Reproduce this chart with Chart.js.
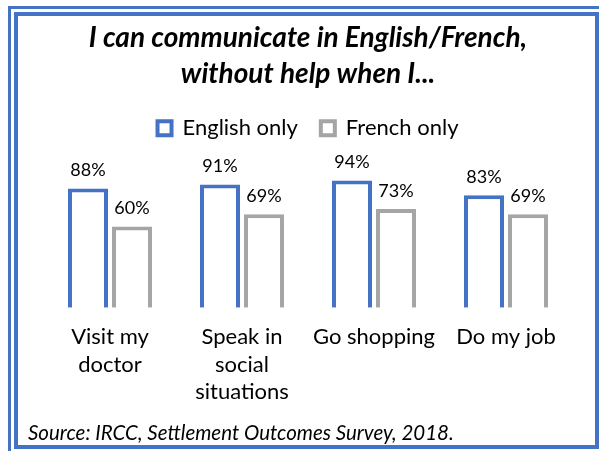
<!DOCTYPE html>
<html>
<head>
<meta charset="utf-8">
<script src="https://cdn.jsdelivr.net/npm/chart.js@4/dist/chart.umd.min.js"></script>
<style>
  body { margin: 0; background: #fff; }
  #wrap { position: relative; width: 599px; height: 451px; overflow: hidden; }
  #outer { position: absolute; left: 8px; top: 6px; width: 620px; height: 480px; border: 3px solid #4472C4; box-sizing: border-box; }
  #inner { position: absolute; left: 14px; top: 12px; width: 585px; height: 437px; border: 4px solid #4472C4; box-sizing: border-box; background: #fff; }
  #chart { position: absolute; left: 0; top: 0; }
  #source { position: absolute; left: 28px; top: 420px; font: italic 20.5px Lato, sans-serif; color: #000; }
</style>
</head>
<body>
<div id="wrap">
  <div id="outer"></div>
  <div id="inner"></div>
  <canvas id="chart" width="599" height="451"></canvas>
  <div id="source">Source: IRCC, Settlement Outcomes Survey, 2018.</div>
</div>
<script>
const categories = [['Visit my', 'doctor'], ['Speak in', 'social', 'situations'], ['Go shopping'], ['Do my job']]
const englishOnly = [88, 91, 94, 83]
const frenchOnly = [60, 69, 73, 69]

// draws "88%" etc above each bar
const valueLabels = {
    id: 'valueLabels',
    afterDatasetsDraw(chart) {
        const ctx = chart.ctx
        ctx.save()
        ctx.font = '18px Lato, sans-serif'
        ctx.fillStyle = '#000'
        ctx.textAlign = 'center'
        ctx.textBaseline = 'bottom'
        chart.data.datasets.forEach((ds, i) => {
            chart.getDatasetMeta(i).data.forEach((bar, j) => {
                ctx.fillText(ds.data[j] + '%', bar.x, bar.y - 9)
            })
        })
        ctx.restore()
    }
}

new Chart(document.getElementById('chart'), {
    type: 'bar',
    data: {
        labels: categories,
        datasets: [
            { label: 'English only', data: englishOnly, backgroundColor: '#fff', borderColor: '#4472C4', borderWidth: 4 },
            { label: 'French only', data: frenchOnly, backgroundColor: '#fff', borderColor: '#A5A5A5', borderWidth: 4 }
        ]
    },
    options: {
        responsive: false,
        animation: false,
        events: [],
        layout: { padding: { left: 44, right: 27, top: 20, bottom: 38 } },
        categoryPercentage: 0.667,
        barPercentage: 0.909,
        plugins: {
            title: {
                display: true,
                text: ['I can communicate in English/French,', 'without help when I...'],
                color: '#000',
                font: { family: 'Lato, sans-serif', size: 28, weight: 'bold', style: 'italic', lineHeight: 1.29 },
                padding: { top: 0, bottom: 2 }
            },
            legend: {
                labels: {
                    color: '#000',
                    boxWidth: 14,
                    boxHeight: 14,
                    padding: 23,
                    font: { family: 'Lato, sans-serif', size: 22 }
                }
            },
            tooltip: { enabled: false }
        },
        scales: {
            x: {
                grid: { display: false },
                border: { display: false },
                ticks: { color: '#000', font: { family: 'Lato, sans-serif', size: 22, lineHeight: 1.23 }, padding: 8, maxRotation: 0 }
            },
            y: { display: false, min: 0, max: 117 }
        }
    },
    plugins: [valueLabels]
})
</script>
</body>
</html>
